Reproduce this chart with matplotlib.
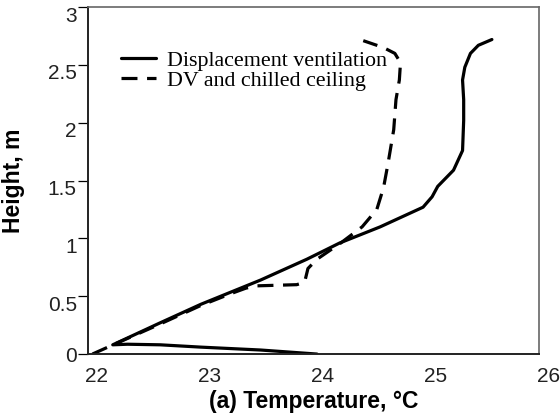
"""
Vertical temperature profile: displacement ventilation vs DV + chilled ceiling.
"""
import matplotlib
matplotlib.use("Agg")
import matplotlib.pyplot as plt
import matplotlib.transforms as mtransforms

# Displacement ventilation (temperature degC, height m)
dv_temp = [24.03, 23.53, 23.0, 22.64, 22.35, 22.22, 22.64, 23.0, 23.53, 23.94,
           24.23, 24.59, 24.97, 25.05, 25.10, 25.24, 25.32, 25.33, 25.33, 25.32,
           25.34, 25.39, 25.46, 25.58]
dv_height = [0.0, 0.035, 0.06, 0.08, 0.085, 0.08, 0.27, 0.43, 0.64, 0.82,
             0.96, 1.10, 1.27, 1.36, 1.45, 1.59, 1.76, 2.02, 2.20, 2.37,
             2.48, 2.60, 2.67, 2.72]

# DV and chilled ceiling
cc_temp = [22.04, 22.2, 22.64, 23.0, 23.26, 23.4, 23.5, 23.85, 23.92, 23.95,
           24.03, 24.24, 24.43, 24.56, 24.62, 24.66, 24.71, 24.73, 24.76, 24.77,
           24.72, 24.62, 24.50, 24.44]
cc_height = [0.0, 0.07, 0.26, 0.42, 0.52, 0.57, 0.59, 0.60, 0.62, 0.74,
             0.82, 0.96, 1.10, 1.25, 1.44, 1.65, 1.94, 2.20, 2.37, 2.52,
             2.60, 2.65, 2.69, 2.71]

x_ticks = [22, 23, 24, 25, 26]
y_ticks = [0, 0.5, 1, 1.5, 2, 2.5, 3]
y_tick_labels = ["0", "0.5", "1", "1.5", "2", "2.5", "3"]

fig = plt.figure(figsize=(5.6, 4.2), dpi=100)
ax = fig.add_axes([0.157, 0.157, 0.806, 0.826])

ax.plot(dv_temp, dv_height, color="black", lw=2.3, solid_capstyle="round",
        solid_joinstyle="round", label="Displacement ventilation")
ax.plot(cc_temp, cc_height, color="black", lw=2.3, linestyle=(0, (5, 3)),
        label="DV and chilled ceiling")

ax.set_xlim(22, 26)
ax.set_ylim(0, 3)
ax.set_xticks(x_ticks)
ax.set_xticklabels([str(t) for t in x_ticks])
ax.set_yticks(y_ticks)
ax.set_yticklabels(y_tick_labels)

sans = "Liberation Sans"
for lab in ax.get_xticklabels() + ax.get_yticklabels():
    lab.set_fontfamily(sans)
    lab.set_fontsize(15)
    lab.set_color("#222222")

ax.tick_params(axis="x", length=0, pad=9)
ax.tick_params(axis="y", direction="out", length=7, width=0.9, pad=1)

# the scanned labels sit slightly off their ticks
dx = mtransforms.ScaledTranslation(9 / 100, 0, fig.dpi_scale_trans)
for lab in ax.get_xticklabels():
    lab.set_transform(lab.get_transform() + dx)
dy = mtransforms.ScaledTranslation(0, -7 / 100, fig.dpi_scale_trans)
for lab in ax.get_yticklabels()[1:]:
    lab.set_transform(lab.get_transform() + dy)

for side in ["left", "bottom"]:
    ax.spines[side].set_linewidth(1.4)
    ax.spines[side].set_color("#222222")
for side in ["top", "right"]:
    ax.spines[side].set_linewidth(1.2)
    ax.spines[side].set_color("#666666")

ax.set_xlabel("(a) Temperature, °C", fontfamily=sans, fontweight="bold",
              fontsize=16.5, labelpad=3)
ax.set_ylabel("Height, m", fontfamily=sans, fontweight="bold",
              fontsize=16.5)
ax.yaxis.set_label_coords(-0.14, 0.5)

ax.legend(loc="upper left", bbox_to_anchor=(0.039, 0.92), frameon=False,
          prop={"family": "Liberation Serif", "size": 15.8},
          handlelength=1.6, handletextpad=0.5, labelspacing=0.0,
          borderpad=0.2)

fig.savefig("out.png", dpi=100)
